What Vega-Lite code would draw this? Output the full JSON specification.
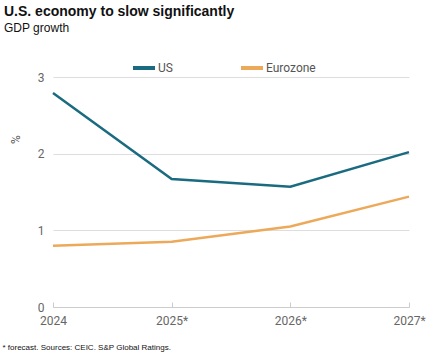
{
  "$schema": "https://vega.github.io/schema/vega-lite/v6.json",
  "width": 356,
  "height": 230,
  "autosize": {"type": "none"},
  "padding": {"left": 53, "top": 77, "right": 20, "bottom": 48},
  "background": "white",
  "config": {"view": {"stroke": null}},
  "title": {
    "text": "U.S. economy to slow significantly",
    "subtitle": "GDP growth",
    "anchor": "start",
    "frame": "group",
    "dx": -49,
    "dy": -21,
    "offset": 0,
    "font": "Liberation Sans",
    "fontSize": 14,
    "fontWeight": "bold",
    "color": "#111",
    "subtitleFont": "Liberation Sans",
    "subtitleFontSize": 12,
    "subtitleColor": "#111",
    "subtitlePadding": 4
  },
  "data": {
    "values": [
      {"year": "2024", "series": "US", "value": 2.79},
      {"year": "2025*", "series": "US", "value": 1.67},
      {"year": "2026*", "series": "US", "value": 1.57},
      {"year": "2027*", "series": "US", "value": 2.02},
      {"year": "2024", "series": "Eurozone", "value": 0.80},
      {"year": "2025*", "series": "Eurozone", "value": 0.85},
      {"year": "2026*", "series": "Eurozone", "value": 1.05},
      {"year": "2027*", "series": "Eurozone", "value": 1.44}
    ]
  },
  "mark": {"type": "line", "strokeWidth": 2.5},
  "encoding": {
    "x": {
      "field": "year",
      "type": "ordinal",
      "scale": {"type": "point", "padding": 0},
      "axis": {
        "labelAngle": 0,
        "labelFont": "Roboto",
        "labelFontSize": 12,
        "labelColor": "#666",
        "labelPadding": 13,
        "domainColor": "#ccc",
        "tickColor": "#ccc",
        "tickSize": -5,
        "grid": false,
        "title": "* forecast. Sources: CEIC. S&P Global Ratings.",
        "titleFont": "Liberation Sans",
        "titleFontSize": 8,
        "titleFontWeight": "normal",
        "titleColor": "#111",
        "titleAnchor": "start",
        "titleAlign": "left",
        "titleX": -51,
        "titleY": 36
      }
    },
    "y": {
      "field": "value",
      "type": "quantitative",
      "scale": {"domain": [0, 3]},
      "axis": {
        "values": [0, 1, 2, 3],
        "labelFont": "Roboto",
        "labelFontSize": 12,
        "labelColor": "#666",
        "labelPadding": 9,
        "domain": false,
        "ticks": false,
        "gridColor": "#ddd",
        "title": "%",
        "titleFont": "Roboto",
        "titleFontSize": 12,
        "titleFontWeight": "normal",
        "titleColor": "#555",
        "titleX": -31,
        "titleY": 62
      }
    },
    "color": {
      "field": "series",
      "type": "nominal",
      "scale": {"domain": ["US", "Eurozone"], "range": ["#1a6b80", "#eda95a"]},
      "legend": {
        "title": null,
        "orient": "none",
        "direction": "horizontal",
        "legendX": 78,
        "legendY": -22,
        "symbolType": "stroke",
        "symbolStrokeWidth": 4,
        "symbolSize": 484,
        "labelOffset": 1,
        "labelFont": "Roboto",
        "labelFontSize": 12,
        "labelColor": "#555",
        "columnPadding": 60
      }
    }
  }
}
